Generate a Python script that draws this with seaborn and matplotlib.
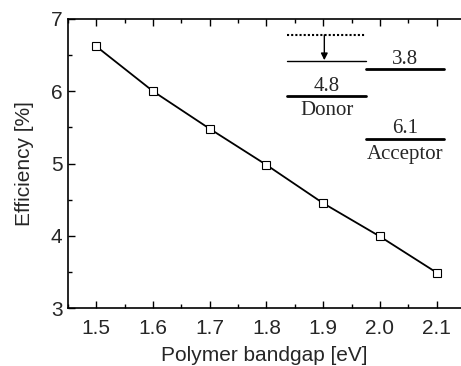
import numpy as np
import pandas as pd
import matplotlib
matplotlib.use("Agg")
import matplotlib.pyplot as plt
import seaborn as sns
from matplotlib.ticker import MultipleLocator

# data
bandgap = [1.5, 1.6, 1.7, 1.8, 1.9, 2.0, 2.1]
efficiency = [6.62, 6.00, 5.48, 4.98, 4.45, 3.99, 3.49]

# energy level inset (eV labels)
donor_lumo = "4.8"
acceptor_lumo = "3.8"
acceptor_homo = "6.1"
level_names = ["Donor", "Acceptor"]

sns.set_style("ticks")
plt.rcParams["font.family"] = ["Liberation Sans", "DejaVu Sans"]

df = pd.DataFrame({"bandgap": bandgap, "efficiency": efficiency})

fig = plt.figure(figsize=(4.61, 3.66), dpi=100)
ax = fig.add_axes([68 / 461, 58 / 366, 1 - 68 / 461, (308 - 19) / 366])

sns.lineplot(data=df, x="bandgap", y="efficiency", ax=ax, color="black",
             linewidth=1.3, marker="s", markersize=6, markerfacecolor="white",
             markeredgecolor="black", markeredgewidth=0.8)

ax.set_xlim(1.45, 2.143)
ax.set_ylim(3, 7)
ax.xaxis.set_major_locator(MultipleLocator(0.1))
ax.xaxis.set_minor_locator(MultipleLocator(0.05))
ax.yaxis.set_major_locator(MultipleLocator(1))
ax.yaxis.set_minor_locator(MultipleLocator(0.5))
ax.xaxis.set_major_formatter(matplotlib.ticker.FormatStrFormatter("%.1f"))
ax.tick_params(which="both", direction="in", top=True, right=False,
               labelsize=15, width=1, color="black")
ax.tick_params(axis="x", which="major", pad=8)
ax.tick_params(axis="y", which="major", pad=4)
ax.tick_params(which="major", length=5)
ax.tick_params(which="minor", length=3)
ax.spines["right"].set_visible(False)
for s in ["left", "top", "bottom"]:
    ax.spines[s].set_linewidth(1.2)
    ax.spines[s].set_color("black")

ax.set_xlabel("Polymer bandgap [eV]", fontsize=15, labelpad=6)
ax.set_ylabel("Efficiency [%]", fontsize=15, labelpad=12)

# energy level diagram
serif = dict(family=["Liberation Serif", "DejaVu Serif"], fontsize=15,
             ha="center", va="center")
ax.plot([1.836, 1.976], [6.78, 6.78], color="black", lw=1.5, ls=(0, (1, 1)))
ax.plot([1.836, 1.976], [6.42, 6.42], color="black", lw=1)
ax.annotate("", xy=(1.902, 6.43), xytext=(1.902, 6.78),
            arrowprops=dict(arrowstyle="-|>", color="black", lw=1,
                            mutation_scale=10, shrinkA=0, shrinkB=0))
ax.plot([1.976, 2.113], [6.31, 6.31], color="black", lw=2)
ax.plot([1.836, 1.976], [5.935, 5.935], color="black", lw=2)
ax.plot([1.976, 2.113], [5.34, 5.34], color="black", lw=2)
ax.text(2.044, 6.44, acceptor_lumo, **serif)
ax.text(1.906, 6.07, donor_lumo, **serif)
ax.text(1.906, 5.74, level_names[0], **serif)
ax.text(2.044, 5.49, acceptor_homo, **serif)
ax.text(2.044, 5.13, level_names[1], **serif)

plt.savefig("out.png", dpi=100)
plt.close()
